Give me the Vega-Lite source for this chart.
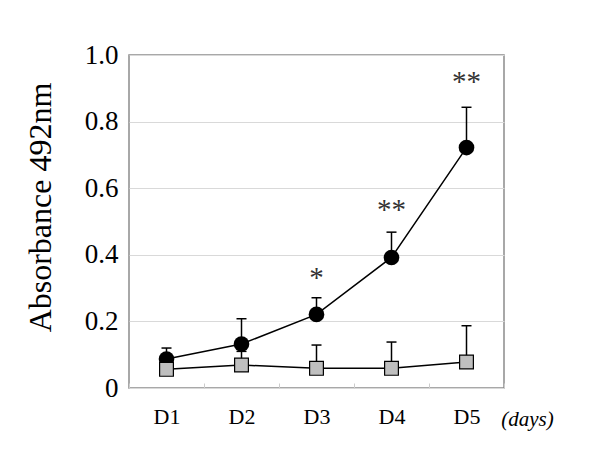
{
  "$schema": "https://vega.github.io/schema/vega-lite/v6.json",
  "width": 375,
  "height": 333,
  "autosize": {"type": "none"},
  "padding": {"left": 129, "top": 55, "right": 96, "bottom": 82},
  "background": "white",
  "config": {
    "font": "'Times New Roman', 'Liberation Serif', Times, serif",
    "view": {"stroke": "#8c8c8c", "strokeWidth": 1.5}
  },
  "data": {
    "values": [
      {"day": "D1", "group": "treated", "mean": 0.087, "upper": 0.12, "sig": "", "sigY": null},
      {"day": "D2", "group": "treated", "mean": 0.132, "upper": 0.208, "sig": "", "sigY": null},
      {"day": "D3", "group": "treated", "mean": 0.221, "upper": 0.271, "sig": "*", "sigY": 0.33},
      {"day": "D4", "group": "treated", "mean": 0.392, "upper": 0.468, "sig": "**", "sigY": 0.535},
      {"day": "D5", "group": "treated", "mean": 0.722, "upper": 0.843, "sig": "**", "sigY": 0.92},
      {"day": "D1", "group": "control", "mean": 0.056, "upper": 0.09, "sig": "", "sigY": null},
      {"day": "D2", "group": "control", "mean": 0.069, "upper": 0.11, "sig": "", "sigY": null},
      {"day": "D3", "group": "control", "mean": 0.059, "upper": 0.129, "sig": "", "sigY": null},
      {"day": "D4", "group": "control", "mean": 0.059, "upper": 0.138, "sig": "", "sigY": null},
      {"day": "D5", "group": "control", "mean": 0.078, "upper": 0.187, "sig": "", "sigY": null}
    ]
  },
  "encoding": {
    "x": {
      "field": "day",
      "type": "ordinal",
      "scale": {"paddingInner": 0, "paddingOuter": 0},
      "axis": {
        "labelAngle": 0,
        "labelFontSize": 22,
        "labelColor": "black",
        "labelPadding": 23,
        "domain": false,
        "grid": false,
        "ticks": true,
        "tickBand": "extent",
        "tickSize": -5,
        "tickColor": "#cccccc",
        "title": "(days)",
        "titleFontSize": 21,
        "titleFontStyle": "italic",
        "titleFontWeight": "normal",
        "titleColor": "black",
        "titleX": 398,
        "titleY": 31,
        "titleBaseline": "middle",
        "titleAlign": "center"
      }
    }
  },
  "layer": [
    {
      "mark": {"type": "line", "color": "black", "strokeWidth": 1.5},
      "encoding": {
        "y": {
          "field": "mean",
          "type": "quantitative",
          "scale": {"domain": [0, 1]},
          "axis": {
            "values": [0, 0.2, 0.4, 0.6, 0.8, 1.0],
            "labelExpr": "datum.value == 0 ? '0' : format(datum.value, '.1f')",
            "labelFontSize": 27,
            "labelColor": "black",
            "labelPadding": 11,
            "domain": false,
            "ticks": false,
            "grid": true,
            "gridColor": "#d9d9d9",
            "gridWidth": 1,
            "title": "Absorbance 492nm",
            "titleFontSize": 32,
            "titleFontWeight": "normal",
            "titleColor": "black",
            "titleX": -89,
            "titleY": 152,
            "titleAngle": -90,
            "titleBaseline": "middle",
            "titleAlign": "center"
          }
        },
        "detail": {"field": "group"}
      }
    },
    {
      "mark": {"type": "rule", "color": "black", "strokeWidth": 1.5},
      "encoding": {
        "y": {"field": "mean", "type": "quantitative"},
        "y2": {"field": "upper"}
      }
    },
    {
      "mark": {"type": "tick", "color": "black", "thickness": 1.5, "size": 10, "opacity": 1},
      "encoding": {
        "y": {"field": "upper", "type": "quantitative"}
      }
    },
    {
      "transform": [{"filter": "datum.group == 'treated'"}],
      "mark": {"type": "point", "shape": "circle", "filled": true, "color": "black", "size": 245, "opacity": 1},
      "encoding": {
        "y": {"field": "mean", "type": "quantitative"}
      }
    },
    {
      "transform": [{"filter": "datum.group == 'control'"}],
      "mark": {"type": "point", "shape": "square", "filled": true, "fill": "#bfbfbf", "stroke": "black", "strokeWidth": 1.2, "size": 190, "opacity": 1},
      "encoding": {
        "y": {"field": "mean", "type": "quantitative"}
      }
    },
    {
      "transform": [{"filter": "datum.sig != ''"}],
      "mark": {"type": "text", "fontSize": 29, "color": "#333333", "baseline": "middle", "align": "center"},
      "encoding": {
        "y": {"field": "sigY", "type": "quantitative"},
        "text": {"field": "sig"}
      }
    }
  ]
}
